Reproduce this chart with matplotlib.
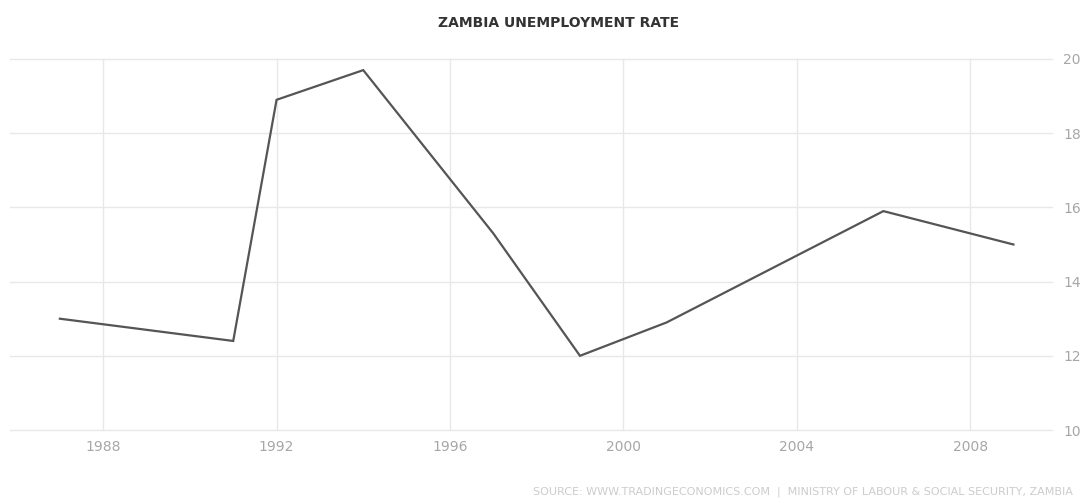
import matplotlib
matplotlib.use("Agg")
import matplotlib.pyplot as plt

# Zambia unemployment rate (%)
years = [1987, 1991, 1992, 1994, 1997, 1999, 2001, 2006, 2009]
rate = [13.0, 12.4, 18.9, 19.7, 15.3, 12.0, 12.9, 15.9, 15.0]

xticks = [1988, 1992, 1996, 2000, 2004, 2008]
yticks = [10, 12, 14, 16, 18, 20]

fig = plt.figure(figsize=(10.8, 5.03), dpi=100, facecolor='white')
ax = fig.add_axes([10 / 1080, 73 / 503, 1042 / 1080, 371 / 503])

ax.plot(years, rate, color='#555555', linewidth=1.6, solid_joinstyle='miter')

ax.set_xlim(1985.85, 2009.89)
ax.set_ylim(10, 20)
ax.set_xticks(xticks)
ax.set_yticks(yticks)
ax.grid(True, color='#e8e8e8', linewidth=1.0)
for gl in ax.get_xgridlines() + ax.get_ygridlines():
    gl.set_clip_on(False)
ax.set_axisbelow(True)
for s in ax.spines.values():
    s.set_visible(False)

ax.yaxis.tick_right()
ax.tick_params(axis='y', length=0, pad=8, labelsize=10, labelcolor='#a6a6a6')
ax.tick_params(axis='x', length=0, pad=7, labelsize=10, labelcolor='#a6a6a6')

fig.text(0.517, 0.955, 'ZAMBIA UNEMPLOYMENT RATE', ha='center', va='center',
         fontsize=10, fontweight='semibold', color='#333333')
fig.text(0.993, 0.022, 'SOURCE: WWW.TRADINGECONOMICS.COM  |  MINISTRY OF LABOUR & SOCIAL SECURITY, ZAMBIA',
         ha='right', va='center', fontsize=8, color='#cccccc')

fig.savefig('out.png', dpi=100, facecolor='white')
